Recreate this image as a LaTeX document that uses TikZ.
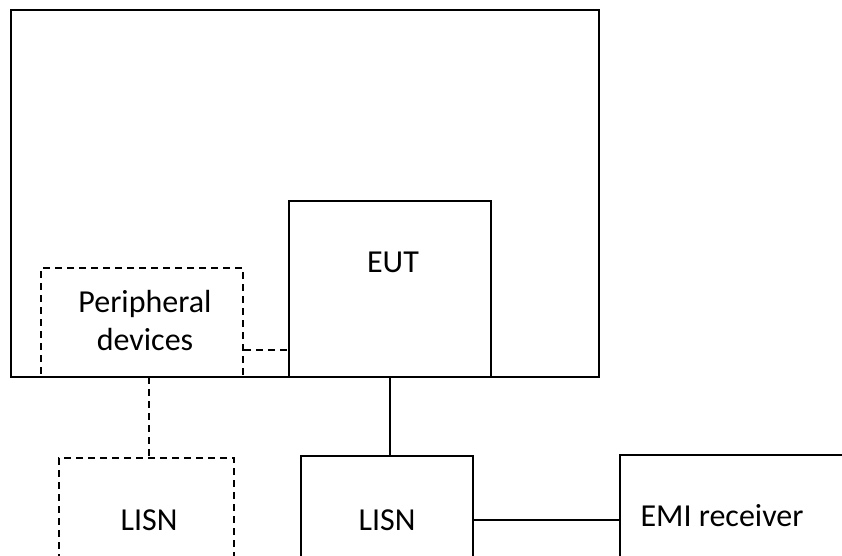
\documentclass[tikz,border=0pt]{standalone}
\usepackage{fontspec}
\setmainfont{Carlito}
\begin{document}
\begin{tikzpicture}[x=1pt,y=-1pt,
  box/.style={draw, line width=2pt, inner sep=0pt, rectangle},
  dbox/.style={box, line width=2.2pt, dash pattern=on 7pt off 5pt},
  lbl/.style={font=\fontsize{32}{38}\selectfont, align=center, inner sep=0pt},
  wire/.style={line width=2.2pt},
  dwire/.style={wire, dash pattern=on 7pt off 5pt}]
\useasboundingbox (0,0) rectangle (842,555);
\clip (0,0) rectangle (842,555);
\node[box, line width=2.6pt, minimum width=588pt, minimum height=367pt] (room) at (305,193.5) {};
\node[box, minimum width=202pt, minimum height=176pt] (eut) at (390,289) {};
\node[dbox, minimum width=202pt, minimum height=109pt] (periph) at (142,322.5) {};
\node[dbox, minimum width=175pt, minimum height=142pt] (lisn1) at (146.5,529) {};
\node[box, minimum width=172pt, minimum height=144pt] (lisn2) at (387,528) {};
\node[box, line width=2.4pt, minimum width=250pt, minimum height=145pt] (emi) at (745,527.5) {};
\node[lbl] (teut) at (393,262) {EUT};
\node[lbl] (tper) at (145,320) {Peripheral\\devices};
\node[lbl] (tl1) at (149,520) {LISN};
\node[lbl] (tl2) at (387,520) {LISN};
\node[lbl] (temi) at (722,516) {EMI receiver};
\coordinate (pe) at (243,350);
\coordinate (pd) at (149,377);
\coordinate (le) at (473,520);
\draw[dwire] (periph.east |- pe) -- (eut.west |- pe);
\draw[dwire] (pd) -- (pd |- lisn1.north);
\draw[wire] (eut.south) -- (eut.south |- lisn2.north);
\draw[wire] (lisn2.east |- le) -- (emi.west |- le);
\end{tikzpicture}
\end{document}
